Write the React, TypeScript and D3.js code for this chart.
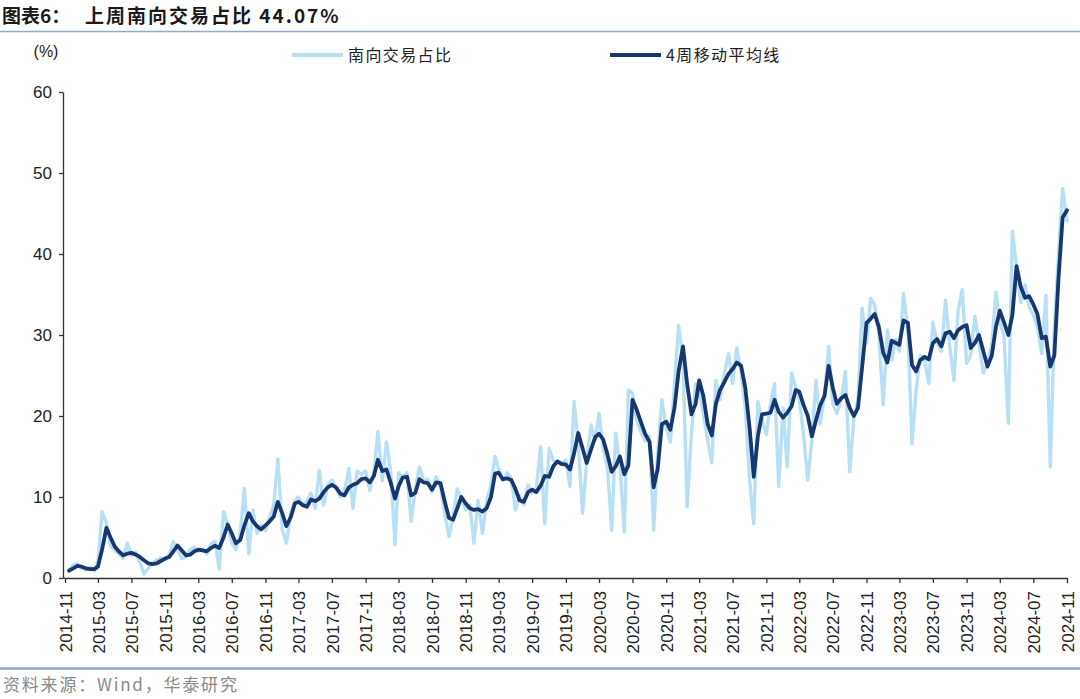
import React, { useEffect, useRef } from 'react';
import * as d3 from 'd3';

const WIDTH = 1080;
const HEIGHT = 699;

// 南向交易占比 (%), read on the 1st and 16th of each month
const share2014 = [1.0, 1.6, 1.8]; // starts 2014-11-16
const share2015 = [1.2, 1.0, 1.3, 0.9, 2.0, 8.2, 6.8, 4.0, 3.4, 3.0, 2.4, 4.3, 2.8, 3.2, 2.0, 0.5, 1.2, 1.9, 2.2, 2.5, 2.3, 2.9, 4.5, 3.6];
const share2016 = [2.4, 2.6, 3.5, 3.8, 3.3, 3.6, 3.0, 4.2, 4.5, 1.1, 8.2, 6.5, 4.3, 3.5, 5.5, 11.1, 3.0, 8.4, 5.5, 6.5, 5.8, 7.5, 9.0, 14.7];
const share2017 = [6.0, 4.3, 8.0, 9.6, 10.0, 9.0, 9.4, 10.5, 8.6, 13.3, 9.0, 11.5, 12.1, 11.0, 10.0, 10.8, 13.5, 8.6, 13.2, 12.8, 13.2, 10.8, 13.0, 18.1];
const share2018 = [12.0, 16.8, 13.0, 4.1, 13.0, 12.5, 13.0, 7.0, 11.0, 13.7, 12.0, 12.2, 10.6, 12.5, 11.3, 8.0, 5.1, 7.6, 11.0, 9.8, 8.4, 9.0, 4.3, 9.6];
const share2019 = [5.5, 9.5, 11.5, 15.0, 13.5, 12.0, 13.0, 12.3, 8.4, 10.2, 9.0, 11.5, 10.5, 11.0, 16.2, 6.7, 16.0, 14.5, 14.2, 14.0, 14.6, 11.3, 21.8, 16.5];
const share2020 = [8.0, 14.5, 18.9, 17.0, 20.3, 16.0, 13.5, 5.9, 17.9, 14.0, 5.7, 23.2, 22.8, 19.5, 18.0, 16.9, 17.5, 5.9, 15.5, 22.0, 18.5, 16.8, 24.0, 31.2];
const share2021 = [27.0, 8.8, 18.0, 24.0, 23.0, 20.3, 17.0, 14.2, 24.4, 22.0, 25.3, 27.7, 24.0, 28.4, 25.5, 21.0, 12.1, 6.7, 21.8, 19.5, 17.7, 21.5, 24.0, 11.3];
const share2022 = [21.0, 13.7, 25.3, 23.5, 22.0, 17.9, 12.1, 17.0, 24.4, 19.0, 22.5, 28.6, 21.5, 20.3, 22.0, 25.5, 13.1, 19.8, 22.0, 33.3, 29.0, 34.5, 33.7, 30.0];
const share2023 = [21.4, 30.6, 26.9, 29.5, 28.0, 35.1, 30.5, 16.6, 23.2, 27.5, 27.0, 24.0, 31.6, 29.0, 28.0, 34.3, 28.5, 24.4, 33.0, 35.6, 26.5, 27.5, 32.3, 29.0];
const share2024 = [25.3, 26.5, 29.0, 35.3, 31.5, 30.0, 19.1, 42.8, 38.5, 34.0, 36.2, 33.5, 32.5, 31.0, 27.7, 34.9, 13.7, 31.0, 40.0, 48.1, 44.07]; // ends 2024-11-01

// 4周移动平均线 (%), same dates
const avg2014 = [0.9, 1.2, 1.5];
const avg2015 = [1.4, 1.2, 1.1, 1.1, 1.4, 3.5, 6.2, 5.0, 3.9, 3.3, 2.8, 3.0, 3.1, 2.9, 2.6, 2.2, 1.8, 1.7, 1.8, 2.1, 2.4, 2.6, 3.3, 4.0];
const avg2016 = [3.4, 2.8, 2.9, 3.3, 3.5, 3.4, 3.3, 3.7, 4.0, 3.7, 5.0, 6.6, 5.5, 4.3, 4.7, 6.5, 8.0, 7.0, 6.4, 6.0, 6.5, 7.0, 7.6, 9.4];
const avg2017 = [8.0, 6.4, 7.5, 9.2, 9.4, 9.0, 8.8, 9.7, 9.5, 9.8, 10.6, 11.2, 11.5, 11.2, 10.4, 10.2, 11.2, 11.5, 11.7, 12.2, 12.3, 11.8, 12.6, 14.6];
const avg2018 = [13.2, 13.4, 11.7, 9.8, 11.3, 12.4, 12.5, 10.2, 10.5, 12.2, 11.8, 11.7, 10.9, 11.8, 11.7, 9.5, 7.4, 7.2, 8.6, 10.0, 9.2, 8.6, 8.4, 8.5];
const avg2019 = [8.2, 8.6, 10.0, 12.9, 13.0, 12.2, 12.3, 12.1, 11.0, 9.6, 9.4, 10.6, 10.9, 10.6, 11.4, 12.6, 12.5, 13.8, 14.4, 14.1, 14.0, 13.4, 15.4, 17.9];
const avg2020 = [16.0, 14.2, 15.9, 17.4, 17.8, 17.1, 15.2, 13.1, 13.8, 15.0, 12.8, 13.9, 22.0, 20.8, 19.2, 17.8, 16.8, 11.2, 13.5, 19.0, 19.3, 18.3, 21.0, 25.5];
const avg2021 = [28.6, 24.0, 20.2, 21.5, 24.4, 22.5, 19.0, 17.6, 21.5, 23.2, 24.2, 25.2, 25.8, 26.6, 26.2, 23.5, 18.5, 12.5, 17.5, 20.2, 20.3, 20.4, 22.0, 20.5];
const avg2022 = [19.8, 20.4, 21.2, 23.2, 23.0, 21.4, 20.0, 17.5, 19.5, 21.3, 22.5, 26.2, 23.5, 21.5, 22.2, 22.6, 21.0, 20.0, 21.0, 26.0, 31.5, 32.0, 32.6, 31.0];
const avg2023 = [27.8, 26.6, 29.3, 29.0, 28.8, 31.8, 31.5, 26.3, 25.5, 26.9, 27.3, 27.0, 29.0, 29.5, 28.6, 30.2, 30.4, 29.6, 30.6, 31.0, 31.2, 28.4, 29.0, 30.0];
const avg2024 = [28.0, 26.1, 27.5, 31.0, 33.0, 31.6, 30.0, 32.5, 38.5, 36.0, 34.6, 34.8, 33.8, 32.6, 29.6, 29.8, 26.1, 27.5, 37.0, 44.5, 45.4];

const years = [2014, 2015, 2016, 2017, 2018, 2019, 2020, 2021, 2022, 2023, 2024];
const shareByYear = [share2014, share2015, share2016, share2017, share2018, share2019, share2020, share2021, share2022, share2023, share2024];
const avgByYear = [avg2014, avg2015, avg2016, avg2017, avg2018, avg2019, avg2020, avg2021, avg2022, avg2023, avg2024];

const xTickLabels = [
  '2014-11', '2015-03', '2015-07', '2015-11', '2016-03', '2016-07', '2016-11',
  '2017-03', '2017-07', '2017-11', '2018-03', '2018-07', '2018-11', '2019-03',
  '2019-07', '2019-11', '2020-03', '2020-07', '2020-11', '2021-03', '2021-07',
  '2021-11', '2022-03', '2022-07', '2022-11', '2023-03', '2023-07', '2023-11',
  '2024-03', '2024-07', '2024-11'
];
const yTicks = [0, 10, 20, 30, 40, 50, 60];

const LIGHT = '#b8e0f5';
const DARK = '#17386f';
const RULE = '#8faacb';
const CJK = '"Noto Sans CJK SC", "Noto Sans", sans-serif';
const LATIN = '"Liberation Sans", Arial, sans-serif';

type Point = { date: Date; value: number };

// slot 0 = Jan 1, slot 1 = Jan 16, slot 2 = Feb 1 ...
function toPoints(byYear: number[][]): Point[] {
  const out: Point[] = [];
  byYear.forEach((vals, k) => {
    const first = years[k] === 2014 ? 21 : 0;
    vals.forEach((v, i) => {
      const slot = first + i;
      out.push({ date: new Date(years[k], Math.floor(slot / 2), slot % 2 ? 16 : 1), value: v });
    });
  });
  return out;
}

export default function App() {
  const ref = useRef<SVGSVGElement>(null);

  useEffect(() => {
    document.body.style.margin = '0';
    const svg = d3.select(ref.current);
    svg.selectAll('*').remove();

    const parseMonth = d3.timeParse('%Y-%m');
    const tickDates = xTickLabels.map(s => parseMonth(s) as Date);

    const x = d3.scaleTime().domain([tickDates[0], tickDates[tickDates.length - 1]]).range([65, 1067]);
    const y = d3.scaleLinear().domain([0, 60]).range([578, 92]);

    // title + rules
    svg.append('text').attr('x', 2).attr('y', 23)
      .style('font-family', CJK).style('font-weight', 700).style('font-size', '19px').attr('fill', '#1a1a1a')
      .text('图表6：');
    svg.append('text').attr('x', 85).attr('y', 23)
      .style('font-family', CJK).style('font-weight', 700).style('font-size', '19px')
      .style('letter-spacing', '2px').attr('fill', '#1a1a1a')
      .text('上周南向交易占比 44.07%');
    svg.append('line').attr('x1', 0).attr('x2', WIDTH).attr('y1', 31.5).attr('y2', 31.5)
      .attr('stroke', RULE).attr('stroke-width', 1.5);
    svg.append('line').attr('x1', 0).attr('x2', WIDTH).attr('y1', 668.5).attr('y2', 668.5)
      .attr('stroke', RULE).attr('stroke-width', 2.5);
    svg.append('text').attr('x', 3).attr('y', 691)
      .style('font-family', CJK).style('font-size', '17px').style('letter-spacing', '1.8px').attr('fill', '#8a8a8a')
      .text('资料来源：Wind，华泰研究');

    // legend
    const legend = [
      { label: '南向交易占比', color: LIGHT, x: 292 },
      { label: '4周移动平均线', color: DARK, x: 610 }
    ];
    legend.forEach(l => {
      svg.append('line').attr('x1', l.x).attr('x2', l.x + 51).attr('y1', 55).attr('y2', 55)
        .attr('stroke', l.color).attr('stroke-width', 3.8);
      svg.append('text').attr('x', l.x + 56).attr('y', 61)
        .style('font-family', CJK).style('font-size', '16px').style('letter-spacing', '1.4px').attr('fill', '#222')
        .text(l.label);
    });

    svg.append('text').attr('x', 46).attr('y', 57).attr('text-anchor', 'middle')
      .style('font-family', LATIN).style('font-size', '16px').attr('fill', '#222')
      .text('(%)');

    // axes
    const yAxis = svg.append('g').attr('transform', 'translate(63,0)')
      .call(d3.axisLeft(y).tickValues(yTicks).tickSize(4).tickSizeOuter(0).tickPadding(7));
    yAxis.selectAll('text').style('font-family', LATIN).style('font-size', '17px').attr('fill', '#222');

    const xAxis = svg.append('g').attr('transform', 'translate(0,578)')
      .call(d3.axisBottom(x).tickValues(tickDates).tickSize(5).tickSizeOuter(0)
        .tickFormat(d => d3.timeFormat('%Y-%m')(d as Date)));
    xAxis.selectAll('text')
      .attr('transform', 'rotate(-90)').attr('text-anchor', 'end')
      .attr('x', -13).attr('y', 0).attr('dy', '0.36em')
      .style('font-family', LATIN).style('font-size', '17px').attr('fill', '#222');

    [yAxis, xAxis].forEach(a => {
      a.select('.domain').attr('stroke', '#333').attr('stroke-width', 1.3);
      a.selectAll('.tick line').attr('stroke', '#333').attr('stroke-width', 1.3);
    });
    svg.append('line').attr('x1', 63).attr('x2', 65).attr('y1', 578).attr('y2', 578)
      .attr('stroke', '#333').attr('stroke-width', 1.3);

    // series
    const line = d3.line<Point>().x(d => x(d.date)).y(d => y(d.value));
    svg.append('path').datum(toPoints(shareByYear)).attr('d', line)
      .attr('fill', 'none').attr('stroke', LIGHT).attr('stroke-width', 3.4)
      .attr('stroke-linejoin', 'round').attr('stroke-linecap', 'round');
    svg.append('path').datum(toPoints(avgByYear)).attr('d', line)
      .attr('fill', 'none').attr('stroke', DARK).attr('stroke-width', 3.8)
      .attr('stroke-linejoin', 'round').attr('stroke-linecap', 'round');
  }, []);

  return (
    <svg ref={ref} width={WIDTH} height={HEIGHT}
      style={{ display: 'block', background: '#fff' }} />
  );
}
